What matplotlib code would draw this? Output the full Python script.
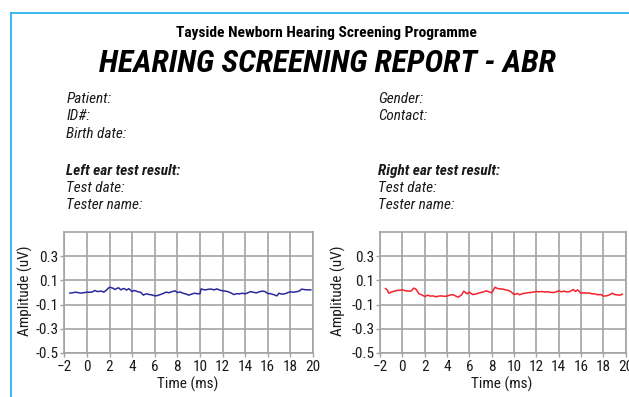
import matplotlib
matplotlib.use("Agg")
import matplotlib.pyplot as plt
from matplotlib.lines import Line2D
from matplotlib import font_manager

# ---- data -------------------------------------------------------------
left_time = [-1.5, -1.25, -1.0, -0.75, -0.5, -0.25, 0.0, 0.25, 0.5, 0.7, 0.85, 1.0,
             1.25, 1.5, 1.7, 2.0, 2.15, 2.3, 2.5, 2.65, 2.8, 3.0, 3.15, 3.3, 3.5, 3.7,
             4.0, 4.15, 4.3, 4.5, 4.75, 5.0, 5.15, 5.3, 5.5, 5.75, 6.0, 6.25, 6.5, 6.75,
             7.0, 7.25, 7.5, 7.8, 8.0, 8.25, 8.5, 8.75, 9.0, 9.25, 9.5, 9.75, 10.0,
             10.1, 10.3, 10.5, 10.75, 11.0, 11.25, 11.5, 11.75, 12.0, 12.25, 12.5,
             12.75, 13.0, 13.25, 13.5, 13.75, 14.0, 14.25, 14.5, 14.75, 15.0, 15.25,
             15.5, 15.75, 16.0, 16.25, 16.5, 16.8, 17.0, 17.25, 17.5, 17.75, 18.0,
             18.25, 18.5, 18.75, 19.0, 19.25, 19.5, 19.8]
left_amp = [-0.005, -0.002, 0.003, -0.002, -0.005, -0.001, 0.003, 0.002, 0.005, 0.017,
            0.010, 0.008, 0.012, 0.003, 0.018, 0.044, 0.040, 0.036, 0.025, 0.034,
            0.039, 0.022, 0.030, 0.033, 0.020, 0.032, 0.008, 0.016, 0.014, 0.006,
            0.002, -0.022, -0.014, -0.011, -0.017, -0.020, -0.028, -0.025, -0.017,
            -0.008, 0.003, -0.002, 0.006, 0.014, 0.000, 0.004, -0.006, -0.012,
            -0.022, -0.014, -0.006, -0.010, -0.011, 0.030, 0.024, 0.022, 0.027,
            0.028, 0.022, 0.030, 0.020, 0.014, 0.012, 0.006, -0.004, -0.017, -0.010,
            -0.011, -0.006, -0.011, -0.002, 0.008, 0.001, -0.003, 0.006, 0.011,
            0.008, -0.008, -0.010, -0.017, -0.028, -0.006, -0.014, -0.011, -0.002,
            0.006, 0.002, 0.006, 0.010, 0.028, 0.024, 0.022, 0.022]

right_time = [-1.5, -1.35, -1.2, -1.0, -0.75, -0.5, -0.25, 0.0, 0.3, 0.5, 0.8, 1.0,
              1.2, 1.5, 1.75, 2.0, 2.3, 2.5, 2.75, 3.0, 3.25, 3.5, 3.75, 4.0, 4.25,
              4.5, 4.75, 5.0, 5.3, 5.5, 5.8, 6.0, 6.3, 6.5, 6.75, 7.0, 7.25, 7.5,
              7.75, 8.0, 8.3, 8.5, 8.7, 9.0, 9.25, 9.5, 9.75, 10.0, 10.3, 10.5,
              10.75, 11.0, 11.25, 11.5, 11.75, 12.0, 12.25, 12.5, 12.75, 13.0,
              13.25, 13.5, 13.75, 14.0, 14.25, 14.5, 14.75, 15.0, 15.3, 15.5, 15.7,
              16.0, 16.25, 16.5, 16.75, 17.0, 17.25, 17.5, 17.75, 18.0, 18.25, 18.5,
              18.8, 19.0, 19.25, 19.5, 19.7]
right_amp = [0.033, 0.020, -0.006, 0.003, 0.010, 0.017, 0.018, 0.022, 0.014, 0.011,
             0.012, 0.036, 0.030, -0.011, -0.020, -0.033, -0.022, -0.030, -0.028,
             -0.036, -0.030, -0.028, -0.032, -0.030, -0.022, -0.017, -0.028, -0.039,
             -0.020, 0.011, -0.011, 0.003, -0.017, -0.014, -0.008, 0.000, 0.004,
             0.014, 0.006, -0.003, 0.044, 0.034, 0.030, 0.028, 0.022, 0.017, 0.004,
             -0.017, -0.008, -0.019, -0.010, -0.006, -0.002, 0.000, 0.004, 0.008,
             0.006, 0.008, 0.004, 0.006, 0.002, 0.000, 0.004, 0.014, 0.006, 0.011,
             0.004, 0.008, 0.025, 0.008, 0.022, -0.006, -0.002, -0.006, -0.004,
             -0.011, -0.012, -0.019, -0.016, -0.030, -0.028, -0.022, -0.006, -0.017,
             -0.020, -0.022, -0.014]

x_ticks = [-2, 0, 2, 4, 6, 8, 10, 12, 14, 16, 18, 20]
y_ticks = [-0.5, -0.3, -0.1, 0.1, 0.3]
y_tick_labels = ["-0.5", "-0.3", "-0.1", "0.1", "0.3"]

# ---- page setup -------------------------------------------------------
W, H = 629, 397
fig = plt.figure(figsize=(W / 100, H / 100), dpi=100)
fig.patch.set_facecolor("white")

# prefer a narrow sans face when one is available
_installed = {f.name for f in font_manager.fontManager.ttflist}
_narrow = [n for n in ["Roboto Condensed", "Open Sans Condensed", "Liberation Sans Narrow",
                       "Arial Narrow"] if n in _installed]
NARROW = bool(_narrow)
FONT = _narrow + ["Liberation Sans", "DejaVu Sans"]
BASE = 11 if NARROW else 9.5

GRID = "#a3a3a3"
BORDER = "#29b3ee"
INK = "#1a1a1a"

renderer = fig.canvas.get_renderer()


def fx(px):
    return px / W


def fy(py):
    return 1 - py / H


def txt(x, y, s, fit=None, **kw):
    kw.setdefault("family", FONT)
    kw.setdefault("va", "baseline")
    kw.setdefault("color", INK)
    t = fig.text(fx(x), fy(y), s, **kw)
    if fit is not None:
        # scale the font so the line spans the wanted width in pixels
        w = t.get_window_extent(renderer).width
        t.set_fontsize(t.get_fontsize() * fit / w)
    return t


# page border (left and top edges)
fig.add_artist(Line2D([fx(11), fx(11)], [fy(12.5), fy(H + 2)], color=BORDER, lw=1.3,
                      transform=fig.transFigure))
fig.add_artist(Line2D([fx(11), fx(W + 2)], [fy(12.5), fy(12.5)], color=BORDER, lw=1.3,
                      transform=fig.transFigure))

# header
txt(326, 37, "Tayside Newborn Hearing Screening Programme", fit=302, ha="center",
    fontsize=10.5, fontweight="bold", color="black")
txt(327.5, 72, "HEARING SCREENING REPORT - ABR", fit=457, ha="center", fontsize=22,
    fontweight="bold", style="italic", color="black")

# patient details
for label, y in [("Patient:", 103), ("ID#:", 120.5), ("Birth date:", 138)]:
    txt(66.5, y, label, fontsize=BASE, style="italic")
for label, y in [("Gender:", 103), ("Contact:", 120.5)]:
    txt(378, y, label, fontsize=BASE, style="italic")

for x0, head in [(66.5, "Left ear test result:"), (378, "Right ear test result:")]:
    txt(x0, 175, head, fontsize=BASE, style="italic", fontweight="bold")
    txt(x0, 192, "Test date:", fontsize=BASE, style="italic")
    txt(x0, 209, "Tester name:", fontsize=BASE, style="italic")


# ---- waveform panels --------------------------------------------------
def panel(left_px, right_px, t, amp, color, ylabel_x):
    top_px, bottom_px = 232.3, 352.7
    ax = fig.add_axes([fx(left_px), fy(bottom_px), fx(right_px - left_px),
                       (bottom_px - top_px) / H])
    ax.plot(t, amp, color=color, lw=1.1)
    ax.set_xlim(-2, 20)
    ax.set_ylim(-0.5, 0.5)
    ax.set_xticks(x_ticks)
    ax.set_yticks(y_ticks)
    ax.set_yticklabels(y_tick_labels)
    ax.grid(True, color=GRID, lw=1.2)
    ax.set_axisbelow(True)
    for sp in ax.spines.values():
        sp.set_color(GRID)
        sp.set_linewidth(1.2)
    ax.tick_params(axis="both", length=3, width=1.0, color=GRID, labelsize=BASE,
                   labelcolor=INK)
    ax.tick_params(axis="y", pad=1.0)
    ax.tick_params(axis="x", pad=2.0)
    for lab in ax.get_xticklabels() + ax.get_yticklabels():
        lab.set_family(FONT)
    mid = (left_px + right_px) / 2
    txt(mid - 1, 389, "Time (ms)", ha="center", fontsize=BASE)
    fig.text(fx(ylabel_x), fy(291), "Amplitude (uV)", rotation=90, family=FONT,
             fontsize=BASE, ha="center", va="center", color=INK)
    return ax


panel(64.3, 313.0, left_time, left_amp, "#2a2a9c", 25)
panel(380.0, 625.7, right_time, right_amp, "#f5222d", 338)

fig.savefig("out.png", dpi=100, facecolor="white")
